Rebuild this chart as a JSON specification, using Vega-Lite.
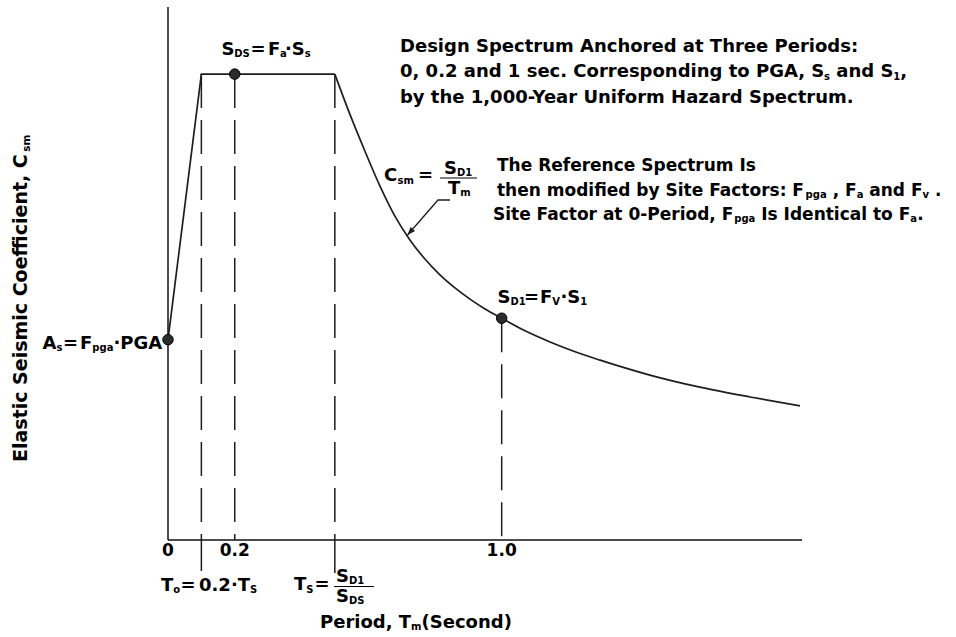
{
  "$schema": "https://vega.github.io/schema/vega-lite/v6.json",
  "width": 634,
  "height": 533,
  "autosize": {"type": "none"},
  "padding": {"left": 168, "top": 7, "right": 154, "bottom": 97},
  "background": "white",
  "config": {"view": {"stroke": null}, "font": "DejaVu Sans"},
  "datasets": {
    "frame": [
      {"t": 0, "t2": 1.9, "c": 0, "c2": 0},
      {"t": 0, "t2": 0, "c": 0, "c2": 1.144}
    ],
    "ticks": [
      {"s": "0", "t": 0, "c": -0.0343},
      {"s": "0.2", "t": 0.2, "c": -0.0343},
      {"s": "1.0", "t": 1.0, "c": -0.0343}
    ],
    "rise": [
      {"t": 0, "c": 0.43},
      {"t": 0.1, "c": 1.0},
      {"t": 0.5, "c": 1.0}
    ],
    "fall": [
      {"t": 0.5, "c": 1.0},
      {"t": 0.545, "c": 0.914},
      {"t": 0.59, "c": 0.835},
      {"t": 0.635, "c": 0.76},
      {"t": 0.68, "c": 0.695},
      {"t": 0.725, "c": 0.644},
      {"t": 0.77, "c": 0.603},
      {"t": 0.815, "c": 0.569},
      {"t": 0.86, "c": 0.541},
      {"t": 0.905, "c": 0.517},
      {"t": 0.95, "c": 0.496},
      {"t": 1.0, "c": 0.476},
      {"t": 1.07, "c": 0.449},
      {"t": 1.145, "c": 0.425},
      {"t": 1.22, "c": 0.404},
      {"t": 1.295, "c": 0.386},
      {"t": 1.444, "c": 0.354},
      {"t": 1.594, "c": 0.328},
      {"t": 1.744, "c": 0.307},
      {"t": 1.894, "c": 0.288}
    ],
    "anchors": [
      {"t": 0, "c": 0.43},
      {"t": 0.2, "c": 1.0},
      {"t": 1.0, "c": 0.476}
    ],
    "drops": [
      {"t": 0.1, "top": 1.0, "bottom": 0},
      {"t": 0.2, "top": 1.0, "bottom": 0},
      {"t": 0.5, "top": 1.0, "bottom": 0},
      {"t": 1.0, "top": 0.476, "bottom": 0}
    ],
    "stubs": [
      {"t": 0.1, "top": 0, "bottom": -0.0665},
      {"t": 0.5, "top": 0, "bottom": -0.0708}
    ],
    "bars": [
      {"t1": 0.8151, "t2": 0.926, "c": 0.777},
      {"t1": 0.4975, "t2": 0.6173, "c": -0.0998}
    ],
    "leader": [
      {"t": 0.7178, "c": 0.6546},
      {"t": 0.8091, "c": 0.7298},
      {"t": 0.8451, "c": 0.7298}
    ],
    "tip": [
      {"t": 0.7178, "c": 0.6546}
    ],
    "labels": [
      {"s": "S", "t": 0.1603, "c": 1.041},
      {"s": "=", "t": 0.2472, "c": 1.041},
      {"s": "F", "t": 0.2997, "c": 1.041},
      {"s": "·S", "t": 0.3506, "c": 1.041},
      {"s": "S", "t": 0.9874, "c": 0.5087},
      {"s": "=", "t": 1.0668, "c": 0.5087},
      {"s": "F", "t": 1.1148, "c": 0.5087},
      {"s": "·S", "t": 1.1762, "c": 0.5087},
      {"s": "A", "t": -0.3761, "c": 0.41},
      {"s": "=", "t": -0.3147, "c": 0.41},
      {"s": "F", "t": -0.2637, "c": 0.41},
      {"s": "·PGA", "t": -0.1636, "c": 0.41},
      {"s": "C", "t": 0.6473, "c": 0.7705},
      {"s": "=", "t": 0.7492, "c": 0.7705},
      {"s": "S", "t": 0.8271, "c": 0.7856},
      {"s": "T", "t": 0.8391, "c": 0.7416},
      {"s": "T", "t": -0.021, "c": -0.1084},
      {"s": "=", "t": 0.0375, "c": -0.1084},
      {"s": "0.2·T", "t": 0.0929, "c": -0.1084},
      {"s": "T", "t": 0.3776, "c": -0.1073},
      {"s": "=", "t": 0.439, "c": -0.1073},
      {"s": "S", "t": 0.5034, "c": -0.0901},
      {"s": "S", "t": 0.5034, "c": -0.132},
      {"s": "Period, T", "t": 0.4555, "c": -0.1889},
      {"s": "(Second)", "t": 0.7597, "c": -0.1889},
      {"s": "Design Spectrum Anchored at Three Periods:", "t": 0.6952, "c": 1.0474},
      {"s": "0, 0.2 and 1 sec. Corresponding to PGA, S", "t": 0.6952, "c": 0.9927},
      {"s": "and S", "t": 2.0027, "c": 0.9927},
      {"s": ",", "t": 2.1948, "c": 0.9927},
      {"s": "by the 1,000-Year Uniform Hazard Spectrum.", "t": 0.6952, "c": 0.938}
    ],
    "notes": [
      {"s": "The Reference Spectrum Is", "t": 0.9859, "c": 0.792},
      {"s": "then modified by Site Factors: F", "t": 0.9859, "c": 0.7384},
      {"s": ", F", "t": 1.9919, "c": 0.7384},
      {"s": "and F", "t": 2.1016, "c": 0.7384},
      {"s": ".", "t": 2.2985, "c": 0.7384},
      {"s": "Site Factor at 0-Period, F", "t": 0.9739, "c": 0.6868},
      {"s": "Is Identical to F", "t": 1.7779, "c": 0.6868},
      {"s": ".", "t": 2.2452, "c": 0.6868}
    ],
    "subs": [
      {"s": "DS", "t": 0.1987, "c": 1.0367},
      {"s": "a", "t": 0.3356, "c": 1.0367},
      {"s": "s", "t": 0.4099, "c": 1.0367},
      {"s": "D1", "t": 1.0264, "c": 0.5044},
      {"s": "V", "t": 1.1516, "c": 0.5044},
      {"s": "1", "t": 1.2355, "c": 0.5044},
      {"s": "s", "t": -0.3344, "c": 0.4057},
      {"s": "pga", "t": -0.2268, "c": 0.4057},
      {"s": "sm", "t": 0.6877, "c": 0.7641},
      {"s": "D1", "t": 0.866, "c": 0.7813},
      {"s": "m", "t": 0.8759, "c": 0.7373},
      {"s": "o", "t": 0.0159, "c": -0.1138},
      {"s": "S", "t": 0.2457, "c": -0.1138},
      {"s": "S", "t": 0.4144, "c": -0.1127},
      {"s": "D1", "t": 0.5424, "c": -0.0944},
      {"s": "DS", "t": 0.5424, "c": -0.1363},
      {"s": "m", "t": 0.7282, "c": -0.1942},
      {"s": "s", "t": 1.9658, "c": 0.9873},
      {"s": "1", "t": 2.1738, "c": 0.9873},
      {"s": "pga", "t": 1.9107, "c": 0.733},
      {"s": "a", "t": 2.0638, "c": 0.733},
      {"s": "v", "t": 2.2613, "c": 0.733},
      {"s": "pga", "t": 1.697, "c": 0.6815},
      {"s": "a", "t": 2.2247, "c": 0.6815}
    ],
    "ytitle": [
      {"s": "Elastic Seismic Coefficient, C", "t": -0.4225, "c": 0.1674}
    ],
    "ytitlesub": [
      {"s": "sm", "t": -0.415, "c": 0.8335}
    ]
  },
  "layer": [
    {
      "data": {"name": "frame"},
      "mark": {"type": "rule", "color": "#111", "strokeWidth": 1.5},
      "encoding": {
        "x": {"field": "t", "type": "quantitative", "scale": {"domain": [0, 1.9], "nice": false, "zero": false}, "axis": null},
        "x2": {"field": "t2"},
        "y": {"field": "c", "type": "quantitative", "scale": {"domain": [0, 1.144], "nice": false, "zero": false}, "axis": null},
        "y2": {"field": "c2"}
      }
    },
    {
      "data": {"name": "ticks"},
      "mark": {"type": "text", "align": "center", "baseline": "alphabetic", "font": "DejaVu Sans", "fontWeight": "bold", "fontSize": 17, "color": "#000"},
      "encoding": {
        "x": {"field": "t", "type": "quantitative", "scale": {"domain": [0, 1.9], "nice": false, "zero": false}, "axis": null},
        "y": {"field": "c", "type": "quantitative", "scale": {"domain": [0, 1.144], "nice": false, "zero": false}, "axis": null},
        "text": {"field": "s"}
      }
    },
    {
      "data": {"name": "rise"},
      "mark": {"type": "line", "color": "#1e1e1e", "strokeWidth": 1.7},
      "encoding": {
        "x": {"field": "t", "type": "quantitative", "scale": {"domain": [0, 1.9], "nice": false, "zero": false}, "axis": null},
        "y": {"field": "c", "type": "quantitative", "scale": {"domain": [0, 1.144], "nice": false, "zero": false}, "axis": null}
      }
    },
    {
      "data": {"name": "fall"},
      "mark": {"type": "line", "color": "#1e1e1e", "strokeWidth": 1.7, "interpolate": "monotone"},
      "encoding": {
        "x": {"field": "t", "type": "quantitative", "scale": {"domain": [0, 1.9], "nice": false, "zero": false}, "axis": null},
        "y": {"field": "c", "type": "quantitative", "scale": {"domain": [0, 1.144], "nice": false, "zero": false}, "axis": null}
      }
    },
    {
      "data": {"name": "drops"},
      "mark": {"type": "rule", "color": "#1e1e1e", "strokeWidth": 1.5, "strokeDash": [34, 12]},
      "encoding": {
        "x": {"field": "t", "type": "quantitative", "scale": {"domain": [0, 1.9], "nice": false, "zero": false}, "axis": null},
        "y": {"field": "top", "type": "quantitative", "scale": {"domain": [0, 1.144], "nice": false, "zero": false}, "axis": null},
        "y2": {"field": "bottom"}
      }
    },
    {
      "data": {"name": "stubs"},
      "mark": {"type": "rule", "color": "#1e1e1e", "strokeWidth": 1.5},
      "encoding": {
        "x": {"field": "t", "type": "quantitative", "scale": {"domain": [0, 1.9], "nice": false, "zero": false}, "axis": null},
        "y": {"field": "top", "type": "quantitative", "scale": {"domain": [0, 1.144], "nice": false, "zero": false}, "axis": null},
        "y2": {"field": "bottom"}
      }
    },
    {
      "data": {"name": "bars"},
      "mark": {"type": "rule", "color": "#000", "strokeWidth": 1.2},
      "encoding": {
        "x": {"field": "t1", "type": "quantitative", "scale": {"domain": [0, 1.9], "nice": false, "zero": false}, "axis": null},
        "x2": {"field": "t2"},
        "y": {"field": "c", "type": "quantitative", "scale": {"domain": [0, 1.144], "nice": false, "zero": false}, "axis": null}
      }
    },
    {
      "data": {"name": "leader"},
      "mark": {"type": "line", "color": "#1e1e1e", "strokeWidth": 1.3},
      "encoding": {
        "x": {"field": "t", "type": "quantitative", "scale": {"domain": [0, 1.9], "nice": false, "zero": false}, "axis": null},
        "y": {"field": "c", "type": "quantitative", "scale": {"domain": [0, 1.144], "nice": false, "zero": false}, "axis": null}
      }
    },
    {
      "data": {"name": "tip"},
      "mark": {"type": "point", "shape": "M0,0L0.38,1L-0.38,1Z", "size": 260, "angle": 221, "filled": true, "color": "#1e1e1e", "opacity": 1},
      "encoding": {
        "x": {"field": "t", "type": "quantitative", "scale": {"domain": [0, 1.9], "nice": false, "zero": false}, "axis": null},
        "y": {"field": "c", "type": "quantitative", "scale": {"domain": [0, 1.144], "nice": false, "zero": false}, "axis": null}
      }
    },
    {
      "data": {"name": "anchors"},
      "mark": {"type": "point", "shape": "circle", "size": 110, "filled": true, "color": "#2b2b2b", "stroke": "#000", "strokeWidth": 1, "opacity": 1},
      "encoding": {
        "x": {"field": "t", "type": "quantitative", "scale": {"domain": [0, 1.9], "nice": false, "zero": false}, "axis": null},
        "y": {"field": "c", "type": "quantitative", "scale": {"domain": [0, 1.144], "nice": false, "zero": false}, "axis": null}
      }
    },
    {
      "data": {"name": "labels"},
      "mark": {"type": "text", "align": "left", "baseline": "alphabetic", "font": "DejaVu Sans", "fontWeight": "bold", "fontSize": 18, "color": "#000"},
      "encoding": {
        "x": {"field": "t", "type": "quantitative", "scale": {"domain": [0, 1.9], "nice": false, "zero": false}, "axis": null},
        "y": {"field": "c", "type": "quantitative", "scale": {"domain": [0, 1.144], "nice": false, "zero": false}, "axis": null},
        "text": {"field": "s"}
      }
    },
    {
      "data": {"name": "notes"},
      "mark": {"type": "text", "align": "left", "baseline": "alphabetic", "font": "DejaVu Sans", "fontWeight": "bold", "fontSize": 17, "color": "#000"},
      "encoding": {
        "x": {"field": "t", "type": "quantitative", "scale": {"domain": [0, 1.9], "nice": false, "zero": false}, "axis": null},
        "y": {"field": "c", "type": "quantitative", "scale": {"domain": [0, 1.144], "nice": false, "zero": false}, "axis": null},
        "text": {"field": "s"}
      }
    },
    {
      "data": {"name": "subs"},
      "mark": {"type": "text", "align": "left", "baseline": "alphabetic", "font": "DejaVu Sans", "fontWeight": "bold", "fontSize": 10, "color": "#000"},
      "encoding": {
        "x": {"field": "t", "type": "quantitative", "scale": {"domain": [0, 1.9], "nice": false, "zero": false}, "axis": null},
        "y": {"field": "c", "type": "quantitative", "scale": {"domain": [0, 1.144], "nice": false, "zero": false}, "axis": null},
        "text": {"field": "s"}
      }
    },
    {
      "data": {"name": "ytitle"},
      "mark": {"type": "text", "align": "left", "baseline": "alphabetic", "angle": 270, "font": "DejaVu Sans", "fontWeight": "bold", "fontSize": 19, "color": "#000"},
      "encoding": {
        "x": {"field": "t", "type": "quantitative", "scale": {"domain": [0, 1.9], "nice": false, "zero": false}, "axis": null},
        "y": {"field": "c", "type": "quantitative", "scale": {"domain": [0, 1.144], "nice": false, "zero": false}, "axis": null},
        "text": {"field": "s"}
      }
    },
    {
      "data": {"name": "ytitlesub"},
      "mark": {"type": "text", "align": "left", "baseline": "alphabetic", "angle": 270, "font": "DejaVu Sans", "fontWeight": "bold", "fontSize": 10.5, "color": "#000"},
      "encoding": {
        "x": {"field": "t", "type": "quantitative", "scale": {"domain": [0, 1.9], "nice": false, "zero": false}, "axis": null},
        "y": {"field": "c", "type": "quantitative", "scale": {"domain": [0, 1.144], "nice": false, "zero": false}, "axis": null},
        "text": {"field": "s"}
      }
    }
  ]
}
